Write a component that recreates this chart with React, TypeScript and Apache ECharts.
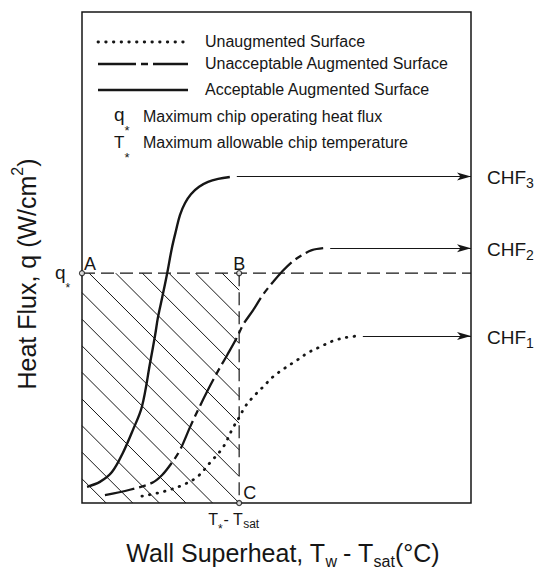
import React, { useEffect, useRef } from "react";
import * as echarts from "echarts";

// ---------- data (x: wall superheat, y: heat flux; arbitrary 0..100 units) ----------
const acceptableSurface: number[][] = [
  [1.3, 3.3], [4.6, 4.3], [7.7, 6.3], [10.5, 10.2], [13.1, 14.9], [15.4, 19.6],
  [17.5, 28.5], [18.8, 34.2], [19.5, 37.7], [20.6, 41.8], [21.9, 46.8],
  [23.1, 51.9], [24.2, 55.6], [25.2, 58.7], [26.5, 61.1], [28.0, 62.9], [30.1, 64.4],
  [32.4, 65.4], [35.0, 66.0], [38.0, 66.4],
];
const unacceptableSurface: number[][] = [
  [5.9, 1.6], [12.3, 2.7], [18.0, 4.1], [20.6, 5.7], [23.1, 8.2], [25.2, 10.8],
  [27.8, 15.5], [29.8, 18.9], [32.1, 22.6], [34.7, 26.5], [37.3, 30.1], [39.9, 33.8],
  [41.4, 36.3], [44.0, 39.3], [46.5, 42.4], [49.1, 45.0], [51.4, 47.1], [54.0, 49.1],
  [56.6, 50.5], [59.1, 51.5], [62.0, 51.9],
];
const unaugmentedSurface: number[][] = [
  [15.4, 1.4], [19.3, 2.0], [22.6, 2.7], [26.0, 3.7], [29.6, 5.3], [32.9, 8.2],
  [36.3, 11.4], [38.8, 15.3], [40.6, 17.7], [41.9, 19.6], [44.0, 21.6], [46.5, 23.6],
  [49.1, 25.7], [52.2, 27.5], [55.3, 29.1], [58.1, 30.6], [61.2, 31.8], [64.5, 33.0],
  [68.4, 33.8], [70.7, 34.0],
];
const chfSubscripts = ["1", "2", "3"];
const chfLevels = [34.0, 51.9, 66.5];
const chfArrowStarts = [72.2, 63.8, 39.8];
const qStar = 46.8;
const tStar = 40.4;
const legendLabels = [
  "Unaugmented Surface",
  "Unacceptable Augmented Surface",
  "Acceptable Augmented Surface",
];
const noteLabels = [
  "Maximum chip operating heat flux",
  "Maximum allowable chip temperature",
];

// ---------- styling ----------
const INK = "#161616";
const FONT = '"Liberation Sans", Arial, sans-serif';
const HATCH_GAP = 26.6;
const DOTTED = { type: [0.5, 7.2], width: 2.8, cap: "round" };
const DASHDOT = { type: [30, 5, 7, 5], width: 2.3 };
const SOLID = { type: "solid", width: 2.4 };

let measureCtx: CanvasRenderingContext2D | null = null;
function measure(t: string, s: number): number {
  if (!measureCtx) measureCtx = document.createElement("canvas").getContext("2d");
  if (!measureCtx) return t.length * s * 0.55;
  measureCtx.font = `${s}px ${FONT}`;
  return measureCtx.measureText(t).width;
}

type Part = { t: string; s: number; dy?: number; gap?: number };
function textRun(
  parts: Part[],
  x: number,
  y: number,
  opt: { align?: "left" | "center" | "right"; rotation?: number } = {}
) {
  const widths = parts.map((p) => measure(p.t, p.s) + (p.gap || 0));
  const total = widths.reduce((a, b) => a + b, 0);
  let cx = opt.align === "center" ? -total / 2 : opt.align === "right" ? -total : 0;
  const children = parts.map((p, i) => {
    const el = {
      type: "text",
      x: cx + (p.gap || 0),
      y: p.dy || 0,
      silent: true,
      style: {
        text: p.t,
        fontSize: p.s,
        fontFamily: FONT,
        fill: INK,
        align: "left",
        verticalAlign: "middle",
      },
    };
    cx += widths[i];
    return el;
  });
  return { type: "group", x, y, rotation: opt.rotation || 0, silent: true, children };
}

function hatchRenderItem(_params: any, api: any) {
  const tl = api.coord([api.value(0), api.value(1)]);
  const br = api.coord([api.value(2), api.value(3)]);
  const x0 = tl[0], y0 = tl[1], x1 = br[0], y1 = br[1];
  const base = x1 - y1; // a hatch line passes through corner C
  const children: any[] = [];
  for (let k = -60; k <= 60; k++) {
    const c = base + k * HATCH_GAP;
    const ya = Math.max(y0, x0 - c);
    const yb = Math.min(y1, x1 - c);
    if (yb - ya > 0.5) {
      children.push({
        type: "line",
        shape: { x1: ya + c, y1: ya, x2: yb + c, y2: yb },
        style: { stroke: INK, lineWidth: 1 },
      });
    }
  }
  return { type: "group", children };
}

export default function App() {
  const ref = useRef<HTMLDivElement>(null);
  useEffect(() => {
    if (!ref.current) return;
    const chart = echarts.init(ref.current, undefined, { renderer: "svg" });
    const option: any = {
      animation: false,
      backgroundColor: "#ffffff",
      grid: {
        left: 82, right: 64, top: 12, bottom: 70,
        show: true, borderColor: INK, borderWidth: 1.5, backgroundColor: "transparent",
      },
      xAxis: { type: "value", min: 0, max: 100, show: false },
      yAxis: { type: "value", min: 0, max: 100, show: false },
      series: [
        {
          type: "custom", name: "hatch", silent: true, z: 1,
          renderItem: hatchRenderItem,
          data: [[0, qStar, tStar, 0]],
        },
        {
          type: "line", name: "q*", silent: true, z: 2, symbol: "none",
          data: [[0, qStar], [100, qStar]],
          lineStyle: { color: INK, width: 1.2, type: [13, 6] },
          markLine: {
            silent: true,
            symbol: ["none", "arrow"],
            symbolSize: [6, 14],
            label: { show: false },
            lineStyle: { color: INK, width: 1.1, type: "solid" },
            emphasis: { disabled: true },
            data: chfLevels.map((lv, i) => [
              { coord: [chfArrowStarts[i], lv] },
              { coord: [100, lv] },
            ]),
          },
        },
        {
          type: "line", name: "T*", silent: true, z: 2, symbol: "none",
          data: [[tStar, qStar], [tStar, 0]],
          lineStyle: { color: INK, width: 1.2, type: [13, 6] },
        },
        {
          type: "line", name: legendLabels[0], silent: true, z: 3, symbol: "none",
          smooth: 0.35, data: unaugmentedSurface,
          lineStyle: { color: INK, ...DOTTED },
        },
        {
          type: "line", name: legendLabels[1], silent: true, z: 3, symbol: "none",
          smooth: 0.35, data: unacceptableSurface,
          lineStyle: { color: INK, ...DASHDOT },
        },
        {
          type: "line", name: legendLabels[2], silent: true, z: 3, symbol: "none",
          smooth: 0.35, data: acceptableSurface,
          lineStyle: { color: INK, ...SOLID },
        },
        {
          type: "scatter", name: "points", silent: true, z: 10, clip: false,
          symbol: "circle", symbolSize: 5,
          data: [[0, qStar], [tStar, qStar], [tStar, 0]],
          itemStyle: { color: "#ffffff", borderColor: INK, borderWidth: 1.3 },
        },
      ],
    };
    chart.setOption(option);

    const px = (p: number[]) => chart.convertToPixel({ gridIndex: 0 }, p) as number[];
    const A = px([0, qStar]);
    const B = px([tStar, qStar]);
    const C = px([tStar, 0]);
    const right = px([100, 0])[0];

    const legendRowsY = [42, 64, 90];
    const legendStyles = [DOTTED, DASHDOT, SOLID];
    const graphics: any[] = [];
    legendRowsY.forEach((yy, i) => {
      const ls: any = legendStyles[i];
      graphics.push({
        type: "line", silent: true,
        shape: { x1: 98, y1: yy, x2: 188, y2: yy },
        style: {
          stroke: INK,
          lineWidth: ls.width,
          lineDash: Array.isArray(ls.type) ? (i === 1 ? [38, 5, 7, 5] : ls.type) : null,
          lineCap: ls.cap || "butt",
        },
      });
      graphics.push(textRun([{ t: legendLabels[i], s: 16 }], 205, yy - 1));
    });
    graphics.push(textRun([{ t: "q", s: 19 }, { t: "*", s: 13, dy: 16 }], 114, 114));
    graphics.push(textRun([{ t: noteLabels[0], s: 16 }], 143, 116));
    graphics.push(textRun([{ t: "T", s: 17 }, { t: "*", s: 13, dy: 15.5 }], 114, 142));
    graphics.push(textRun([{ t: noteLabels[1], s: 16 }], 143, 142));

    // point labels
    graphics.push(textRun([{ t: "A", s: 18 }], A[0] + 2, A[1] - 9));
    graphics.push(textRun([{ t: "B", s: 18 }], B[0], B[1] - 9, { align: "center" }));
    graphics.push(textRun([{ t: "C", s: 18 }], C[0] + 4, C[1] - 10));
    graphics.push(
      textRun([{ t: "q", s: 19 }, { t: "*", s: 12, dy: 15.5 }], A[0] - 27, A[1] - 1)
    );
    graphics.push(
      textRun(
        [
          { t: "T", s: 16 },
          { t: "*", s: 12, dy: 9.5 },
          { t: "- T", s: 16, gap: 1 },
          { t: "sat", s: 12, dy: 5 },
        ],
        C[0] - 31,
        C[1] + 16
      )
    );

    // CHF labels (main text and subscript as separate runs)
    chfLevels.forEach((lv, i) => {
      const p = px([100, lv]);
      const x0 = right + 16;
      graphics.push(textRun([{ t: "CHF", s: 19 }], x0, p[1] + 1));
      graphics.push(
        textRun([{ t: chfSubscripts[i], s: 14 }], x0 + measure("CHF", 19), p[1] + 7)
      );
    });

    // axis titles
    graphics.push(
      textRun(
        [
          { t: "Wall Superheat, T", s: 25 },
          { t: "w", s: 16, dy: 8 },
          { t: "- T", s: 25, gap: 6 },
          { t: "sat", s: 16, dy: 8 },
          { t: "(°C)", s: 25 },
        ],
        283,
        553,
        { align: "center" }
      )
    );
    graphics.push(
      textRun(
        [
          { t: "Heat Flux, q (W/cm", s: 25 },
          { t: "2", s: 16, dy: -10 },
          { t: ")", s: 25 },
        ],
        27,
        274,
        { align: "center", rotation: Math.PI / 2 }
      )
    );

    chart.setOption({ graphic: { elements: graphics } });
    return () => chart.dispose();
  }, []);
  return (
    <div
      ref={ref}
      style={{ position: "fixed", left: 0, top: 0, width: 535, height: 573, background: "#fff" }}
    />
  );
}
